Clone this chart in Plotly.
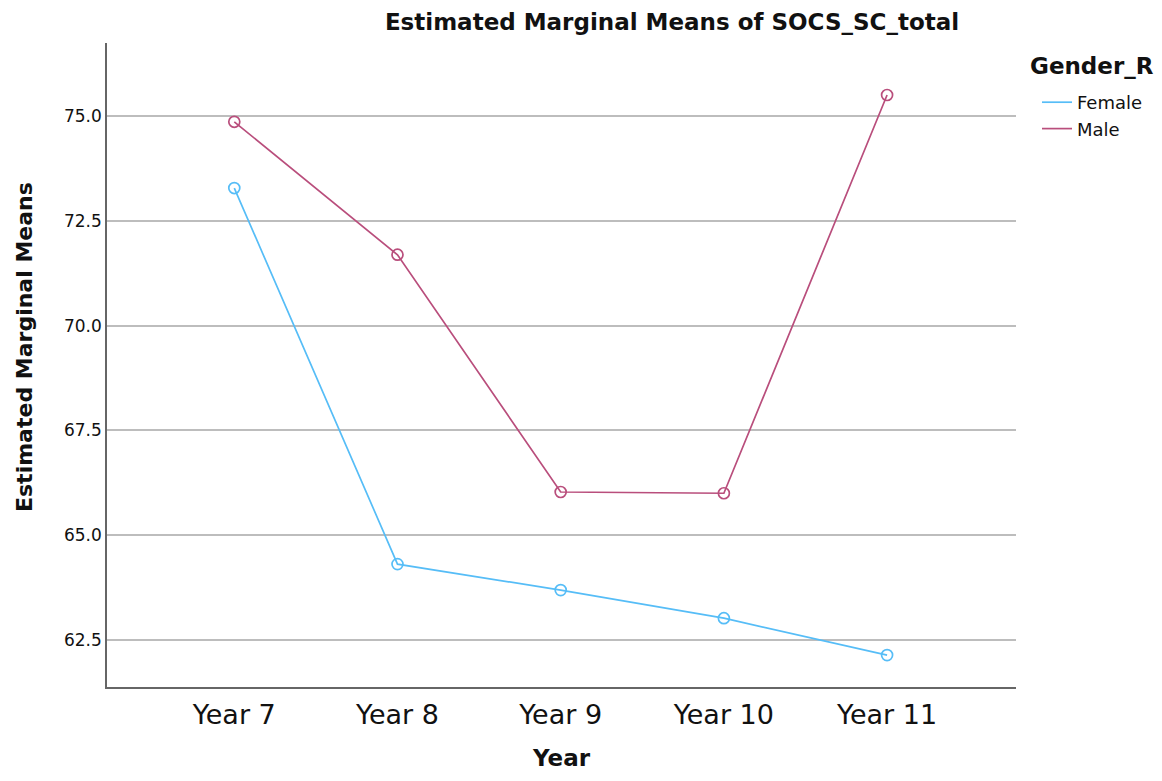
import plotly.graph_objects as go

categories = ["Year 7", "Year 8", "Year 9", "Year 10", "Year 11"]
female = [73.28, 64.31, 63.69, 63.02, 62.14]
male = [74.86, 71.69, 66.03, 66.00, 75.50]
y_ticks = [62.5, 65.0, 67.5, 70.0, 72.5, 75.0]

FONT = "DejaVu Sans, sans-serif"
C_F = "#56bdf7"
C_M = "#b94e7c"
x_idx = list(range(len(categories)))

W, H = 1146, 765
L, R, T, B = 99, 138, 35, 86
PW, PH = W - L - R, H - T - B


def px(fx):
    return (fx - L) / PW


def py(fy):
    return (H - B - fy) / PH


fig = go.Figure()
fig.add_trace(go.Scatter(x=x_idx, y=female, name="Female", mode="lines+markers", showlegend=False,
                         line=dict(color=C_F, width=1.7),
                         marker=dict(symbol="circle-open", size=11, color=C_F, line=dict(width=1.7))))
fig.add_trace(go.Scatter(x=x_idx, y=male, name="Male", mode="lines+markers", showlegend=False,
                         line=dict(color=C_M, width=1.7),
                         marker=dict(symbol="circle-open", size=11, color=C_M, line=dict(width=1.7))))
# legend entries (line only)
fig.add_trace(go.Scatter(x=[None], y=[None], name="Female", mode="lines", line=dict(color=C_F, width=1.7)))
fig.add_trace(go.Scatter(x=[None], y=[None], name="Male", mode="lines", line=dict(color=C_M, width=1.7)))

fig.update_layout(
    width=W, height=H,
    margin=dict(l=L, r=R, t=T, b=B, autoexpand=False),
    plot_bgcolor="white", paper_bgcolor="white",
    font=dict(family=FONT, color="#111111"),
    title=dict(text="<b>Estimated Marginal Means of SOCS_SC_total</b>",
               x=664 / W, xanchor="center", y=1 - 14 / H, yanchor="middle",
               font=dict(size=23, family=FONT)),
    legend=dict(x=px(1029), xanchor="left", y=py(76), yanchor="top",
                font=dict(size=18, family=FONT), tracegroupgap=0, itemwidth=30,
                bgcolor="rgba(0,0,0,0)"),
    showlegend=True,
    annotations=[
        dict(text="<b>Gender_R</b>", x=px(1020), y=py(58), xref="paper", yref="paper",
             xanchor="left", yanchor="middle", showarrow=False, font=dict(size=23, family=FONT)),
        dict(text="<b>Estimated Marginal Means</b>", x=px(16), y=py(339), xref="paper", yref="paper",
             xanchor="center", yanchor="middle", textangle=-90, showarrow=False,
             font=dict(size=22, family=FONT)),
        dict(text="<b>Year</b>", x=px(553), y=py(764), xref="paper", yref="paper",
             xanchor="center", yanchor="bottom", showarrow=False, borderpad=0,
             font=dict(size=23, family=FONT)),
    ],
)

fig.update_xaxes(range=[-0.78, 4.79], tickmode="array", tickvals=x_idx, ticktext=categories,
                 showgrid=False, showline=True, linecolor="#666666", linewidth=1.5,
                 ticks="outside", ticklen=3, tickcolor="rgba(0,0,0,0)",
                 tickfont=dict(size=27, family=FONT, color="#111111"),
                 zeroline=False)
fig.update_yaxes(range=[61.379, 76.74], tickmode="array", tickvals=y_ticks,
                 ticktext=[f"{v:.1f}" for v in y_ticks],
                 showgrid=True, gridcolor="#bdbdbd", gridwidth=1.5,
                 showline=True, linecolor="#666666", linewidth=1.5,
                 ticks="", tickfont=dict(size=17, family=FONT, color="#111111"),
                 zeroline=False)

fig.write_html("out.html")
